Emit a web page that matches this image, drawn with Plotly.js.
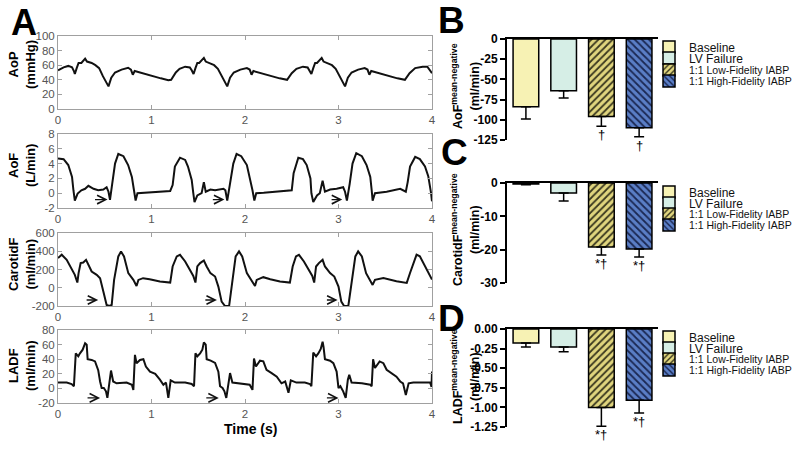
<!DOCTYPE html>
<html>
<head>
<meta charset="utf-8">
<script src="https://cdn.plot.ly/plotly-3.0.1.min.js"></script>
<style>
  body { margin: 0; background: #fff; }
  #chart { width: 800px; height: 451px; }
</style>
</head>
<body>
<div id="chart"></div>
<script>
// ---- panel A waveforms (time in s) ----
const aopT = [0.00,0.06,0.11,0.15,0.17,0.18,0.20,0.22,0.25,0.27,0.29,0.31,0.36,0.40,0.44,0.48,0.51,0.54,0.57,0.61,0.68,0.75,0.78,0.80,0.82,0.90,1.00,1.10,1.18,1.21,
  1.26,1.30,1.36,1.41,1.43,1.45,1.47,1.49,1.51,1.53,1.56,1.58,1.62,1.67,1.71,1.75,1.78,1.81,1.84,1.88,1.95,2.02,2.05,2.07,2.09,2.17,2.27,2.37,2.45,
  2.50,2.55,2.62,2.67,2.69,2.71,2.73,2.75,2.77,2.79,2.82,2.84,2.88,2.93,2.97,3.01,3.04,3.07,3.10,3.14,3.21,3.28,3.31,3.33,3.35,3.43,3.53,3.63,3.71,3.76,3.82,3.90,3.95,3.98,4.00];
const aopV = [53,57,59,57,52,48,56,63,63,66,69,65,63,60,56,45,37,31,43,50,54,56.5,54,47,52,49,45,42,39.5,40,
  50,55,58,57,53,48,56,63,63,66,70,65,63,60,55,45,37,31,43,50,54,56,54,47,52,49,45,42,40,
  49,55,58,57,53,48,56,63,63,66,70,65,63,60,55,45,37,31,43,50,54,56,54,47,52,49,45,42,40,49,56,58,58,52,49];

const aofT = [0.00,0.06,0.11,0.15,0.165,0.18,0.21,0.25,0.29,0.325,0.38,0.43,0.485,0.52,0.54,0.556,0.58,0.61,0.645,0.70,
  0.75,0.79,0.81,0.83,0.85,0.91,1.05,1.20,1.226,1.25,1.305,1.36,1.39,1.43,1.447,1.46,1.49,1.536,1.56,1.58,
  1.63,1.68,1.77,1.79,1.81,1.84,1.875,1.91,1.96,2.02,2.05,2.08,2.10,2.12,2.20,2.34,2.50,2.52,2.57,2.62,
  2.66,2.70,2.71,2.73,2.77,2.80,2.83,2.855,2.91,2.98,3.05,3.07,3.09,3.12,3.15,3.19,3.25,3.30,3.34,3.355,
  3.365,3.39,3.515,3.66,3.72,3.74,3.765,3.82,3.87,3.925,3.96,3.99,4.00];
const aofV = [4.7,4.6,3.8,2.2,0.4,-1.0,-0.05,0.4,0.6,1.0,0.6,0.4,0.5,0.8,0.2,-0.9,1.3,4.0,5.3,5.0,
  3.8,2.2,0.6,-1.0,0.0,0.05,0.2,0.3,1.1,3.6,4.8,4.5,3.6,1.8,0.0,-1.2,-0.3,0.0,1.5,0.2,
  0.5,0.4,0.6,0.4,-1.0,1.3,4.0,5.3,5.0,3.8,2.2,0.4,-1.0,0.0,0.05,0.2,0.4,2.7,4.8,4.6,
  3.8,2.0,0.0,-1.2,-0.3,0.0,1.7,0.2,0.5,0.6,0.8,0.2,-1.0,1.3,4.0,5.4,5.0,3.8,2.2,0.4,
  -1.0,0.0,0.2,0.6,0.2,1.5,3.6,4.9,4.6,3.6,2.3,0.0,-1.1];

const carT = [0.00,0.04,0.093,0.146,0.18,0.207,0.22,0.242,0.27,0.30,0.325,0.36,0.414,0.45,0.485,0.52,0.55,0.574,0.60,0.645,
  0.674,0.706,0.752,0.806,0.84,0.86,0.91,0.98,1.09,1.20,1.226,1.27,1.305,1.36,1.41,1.447,1.47,1.49,1.52,1.56,
  1.59,1.63,1.68,1.715,1.75,1.786,1.83,1.865,1.90,1.936,1.97,2.02,2.07,2.107,2.125,2.196,2.27,2.374,2.48,2.51,
  2.545,2.577,2.63,2.685,2.72,2.74,2.76,2.79,2.83,2.855,2.91,2.955,3.00,3.03,3.06,3.105,3.14,3.18,3.21,3.25,
  3.295,3.34,3.365,3.39,3.48,3.62,3.73,3.765,3.835,3.87,3.925,4.00];
const carV = [325,362,306,196,141,57,160,270,277,306,251,178,141,105,-42,-189,-200,-189,86,343,
  398,343,160,86,20,86,105,94,68,57,233,343,361,288,196,130,57,233,270,299,
  233,160,123,13,-152,-200,-200,50,343,398,343,160,86,20,86,116,94,68,57,233,
  343,361,288,196,130,57,233,270,306,233,160,123,13,-152,-200,-200,50,343,398,343,
  160,86,31,86,107,71,53,162,363,345,235,90];

const ladT = [0.00,0.093,0.146,0.17,0.19,0.217,0.235,0.264,0.29,0.307,0.317,0.36,0.396,0.43,0.45,0.467,0.49,0.513,0.528,0.55,
  0.567,0.59,0.627,0.734,0.79,0.806,0.823,0.84,0.877,0.913,0.94,0.984,1.04,1.09,1.127,1.155,1.18,1.205,1.25,1.36,
  1.43,1.455,1.47,1.49,1.52,1.544,1.56,1.58,1.59,1.633,1.68,1.715,1.733,1.76,1.78,1.80,1.825,1.84,1.865,1.95,
  2.05,2.08,2.096,2.117,2.16,2.196,2.23,2.285,2.34,2.39,2.43,2.465,2.49,2.55,2.64,2.695,2.71,2.73,2.76,2.784,
  2.81,2.83,2.84,2.855,2.91,2.945,2.98,3.00,3.02,3.05,3.077,3.10,3.115,3.14,3.25,3.34,3.355,3.37,3.39,3.44,
  3.48,3.515,3.57,3.62,3.66,3.69,3.72,3.75,3.80,3.98,3.995,4.00];
const ladV = [8,8,6,3,48,44,48,53,62,60,40,39,37,25,9.5,0.5,0.5,-4,-13,12,
  24.5,9.5,7,8,5,-2,46,34.5,39,40,30,23,20,12,5,8,-13,11,8,8,
  6,3,48,44,48,53,63,60,40,38,35,23,3,0.5,-4,-13,9.5,21,8,7,
  5,-2,41,30,38,37,25.5,21,16,7,9.5,-6,11,8,8,6,3,49,44,48,
  54,64,57,40,38,34.5,23,0.5,3,-4,-13,12,18.6,8,7,5,3,40,28,37,
  34.5,25.5,21,16,9.5,7,-9,7,8,8,2,23];

// arrows under the traces: start / end time and level
const aofArrowStart = [0.38, 1.64, 2.91], aofArrowEnd = [0.53, 1.78, 3.04], aofArrowLevel = -0.86;
const carArrowStart = [0.29, 1.56, 2.86], carArrowEnd = [0.43, 1.70, 2.99], carArrowLevel = -134;
const ladArrowStart = [0.30, 1.57, 2.86], ladArrowEnd = [0.45, 1.72, 3.00], ladArrowLevel = -13;

const timeTicks = [0, 1, 2, 3, 4];
const aopTicks = [0, 20, 40, 60, 80, 100];
const aofTicks = [-2, 0, 2, 4, 6, 8];
const carTicks = [-200, 0, 200, 400, 600];
const ladTicks = [-20, 0, 20, 40, 60, 80];

// ---- panels B-D: mean negative flow, one-sided error ----
const groups = ["Baseline", "LV Failure", "1:1 Low-Fidelity IABP", "1:1 High-Fidelity IABP"];
const aofNegMean = [-84, -64, -96, -110];
const aofNegErr = [15, 9, 12, 11];
const aofNegSig = ["", "", "†", "†"];
const carNegMean = [-0.3, -3.0, -19.2, -19.8];
const carNegErr = [0.2, 2.4, 2.4, 2.4];
const carNegSig = ["", "", "*†", "*†"];
const ladNegMean = [-0.18, -0.23, -1.00, -0.91];
const ladNegErr = [0.05, 0.06, 0.24, 0.16];
const ladNegSig = ["", "", "*†", "*†"];

const aofNegTicks = [0, -25, -50, -75, -100, -125];
const carNegTicks = [0, -10, -20, -30];
const ladNegTicks = [0, -0.25, -0.5, -0.75, -1.0, -1.25];

// ---- styling ----
const FONT = "Liberation Sans, Arial, sans-serif";
const barFill = ["#f7f2b4", "#d6eee6", "#e0d57e", "#5a7ec6"];
const barHatch = ["", "", "/", "\\"];
const barHatchColor = ["", "", "#3a381f", "#1b2852"];
const legendSize = [12, 12, 10.5, 10.5];
// pixel rows of the legend entries of panels B, C, D
const legendRows = [[47, 58, 70, 81], [192, 203, 214, 225], [337, 348, 359, 370]];
const legendLeft = 649;

const ax = (n) => (n === 1 ? "" : String(n));

function tsX(domain, n) {
  return {
    domain: domain, anchor: "y" + ax(n), range: [0, 4],
    tickvals: timeTicks, ticktext: timeTicks.map(String),
    showline: true, mirror: "ticks", linecolor: "#a0a0a0", linewidth: 1,
    ticks: "inside", ticklen: 4, tickcolor: "#a0a0a0",
    showgrid: false, zeroline: false,
    tickfont: { family: FONT, size: 11.5, color: "#555" },
  };
}

function tsY(domain, n, range, ticks) {
  return {
    domain: domain, anchor: "x" + ax(n), range: range,
    tickvals: ticks, ticktext: ticks.map(String),
    showline: true, mirror: "ticks", linecolor: "#a0a0a0", linewidth: 1,
    ticks: "inside", ticklen: 4, tickcolor: "#a0a0a0",
    showgrid: false, zeroline: false,
    tickfont: { family: FONT, size: 11.5, color: "#555" },
  };
}

function barX(n) {
  return {
    domain: [0.6338, 0.8225], anchor: "y" + n, type: "category",
    categoryorder: "array", categoryarray: groups, range: [-0.5, 3.5],
    side: "top", showline: true, linecolor: "black", linewidth: 2,
    showticklabels: false, ticks: "", showgrid: false, zeroline: false,
  };
}

function barY(domain, n, range, ticks, digits) {
  return {
    domain: domain, anchor: "x" + n, range: range,
    tickvals: ticks, ticktext: ticks.map((v) => (digits ? v.toFixed(digits) : String(v))),
    showline: true, linecolor: "black", linewidth: 2,
    ticks: "outside", ticklen: 5, tickwidth: 2, tickcolor: "black",
    showgrid: false, zeroline: false,
    tickfont: { family: FONT, size: 12, color: "black", weight: "bold" },
  };
}

function waveTrace(t, v, n) {
  return {
    type: "scatter", mode: "lines", x: t, y: v,
    xaxis: "x" + ax(n), yaxis: "y" + ax(n),
    line: { color: "#111", width: 2 }, showlegend: false, hoverinfo: "skip",
  };
}

// one legend per entry so the rows can sit as tightly as in the figure
const legendDefs = {};
function legendFor(panel, i) {
  const k = panel * 4 + i + 1;
  const id = k === 1 ? "legend" : "legend" + k;
  legendDefs[id] = {
    x: legendLeft / 800, y: 1 - legendRows[panel][i] / 451,
    xanchor: "left", yanchor: "middle",
    bgcolor: "rgba(0,0,0,0)", borderwidth: 0,
    font: { family: FONT, size: legendSize[i], color: "#111" },
  };
  return id;
}

function barTraces(means, errs, n, panel) {
  return groups.map((g, i) => {
    const marker = { color: barFill[i], line: { color: "black", width: 1.5 } };
    if (barHatch[i]) {
      marker.pattern = {
        shape: barHatch[i], fgcolor: barHatchColor[i], bgcolor: barFill[i],
        size: 5, solidity: 0.35, fillmode: "replace",
      };
    }
    return {
      type: "bar", x: [g], y: [means[i]], width: 0.68, name: g,
      xaxis: "x" + n, yaxis: "y" + n, legend: legendFor(panel, i),
      marker: marker,
      error_y: {
        type: "data", symmetric: false, array: [0], arrayminus: [errs[i]],
        color: "black", thickness: 1.5, width: 5,
      },
    };
  });
}

function arrowNotes(starts, ends, level, n) {
  return starts.map((s, i) => ({
    xref: "x" + ax(n), yref: "y" + ax(n), axref: "x" + ax(n), ayref: "y" + ax(n),
    x: ends[i], y: level, ax: s, ay: level, text: "",
    showarrow: true, arrowhead: 5, arrowsize: 1.3, arrowwidth: 1.3, arrowcolor: "#111",
  }));
}

function sigNotes(means, errs, sig, n) {
  return groups.map((g, i) => ({
    xref: "x" + n, yref: "y" + n, x: g, y: means[i] - errs[i],
    yanchor: "top", yshift: 1, text: sig[i], showarrow: false,
    font: { family: FONT, size: 13, color: "black" },
  })).filter((a) => a.text);
}

function label(text, x, y, size, angle, yanchor) {
  return {
    xref: "paper", yref: "paper", x: x / 800, y: 1 - y / 451,
    xanchor: "center", yanchor: yanchor || "middle", text: text, showarrow: false,
    textangle: angle || 0,
    font: { family: FONT, size: size, color: "black", weight: "bold" },
  };
}

const data = [
  waveTrace(aopT, aopV, 1),
  waveTrace(aofT, aofV, 2),
  waveTrace(carT, carV, 3),
  waveTrace(ladT, ladV, 4),
  ...barTraces(aofNegMean, aofNegErr, 5, 0),
  ...barTraces(carNegMean, carNegErr, 6, 1),
  ...barTraces(ladNegMean, ladNegErr, 7, 2),
];

const tsDomainX = [0.0725, 0.54];

const layout = Object.assign({
  width: 800, height: 451,
  margin: { l: 0, r: 0, t: 0, b: 0 },
  paper_bgcolor: "white", plot_bgcolor: "white",
  font: { family: FONT },
  barmode: "overlay",
  showlegend: true,
  xaxis: tsX(tsDomainX, 1), yaxis: tsY([0.7583, 0.9202], 1, [0, 100], aopTicks),
  xaxis2: tsX(tsDomainX, 2), yaxis2: tsY([0.5388, 0.7029], 2, [-2, 8], aofTicks),
  xaxis3: tsX(tsDomainX, 3), yaxis3: tsY([0.3215, 0.4834], 3, [-200, 600], carTicks),
  xaxis4: tsX(tsDomainX, 4), yaxis4: tsY([0.1064, 0.2683], 4, [-20, 80], ladTicks),
  xaxis5: barX(5), yaxis5: barY([0.6896, 0.9135], 5, [-125, 0], aofNegTicks, 0),
  xaxis6: barX(6), yaxis6: barY([0.3725, 0.5942], 6, [-30, 0], carNegTicks, 0),
  xaxis7: barX(7), yaxis7: barY([0.0532, 0.2705], 7, [-1.25, 0], ladNegTicks, 2),
  annotations: [
    label("A", 24, 0, 36, 0, "top"),
    label("B", 452, 21, 37),
    label("C", 454, 152, 37),
    label("D", 452, 318, 37),
    label("AoP<br>(mmHg)", 22, 65, 13, -90),
    label("AoF<br>(L/min)", 22, 166, 13, -90),
    label("CarotidF<br>(ml/min)", 22, 264, 13, -90),
    label("LADF<br>(ml/min)", 22, 366, 13, -90),
    label("Time (s)", 250, 429, 14),
    label("AoF<sup>mean-negative</sup><br>(ml/min)", 465, 86, 12.5, -90),
    label("CarotidF<sup>mean-negative</sup><br>(ml/min)", 465, 230, 12.5, -90),
    label("LADF<sup>mean-negative</sup><br>(ml/min)", 465, 377, 12.5, -90),
    ...arrowNotes(aofArrowStart, aofArrowEnd, aofArrowLevel, 2),
    ...arrowNotes(carArrowStart, carArrowEnd, carArrowLevel, 3),
    ...arrowNotes(ladArrowStart, ladArrowEnd, ladArrowLevel, 4),
    ...sigNotes(aofNegMean, aofNegErr, aofNegSig, 5),
    ...sigNotes(carNegMean, carNegErr, carNegSig, 6),
    ...sigNotes(ladNegMean, ladNegErr, ladNegSig, 7),
  ],
}, legendDefs);

Plotly.newPlot("chart", data, layout, { staticPlot: true });
</script>
</body>
</html>
